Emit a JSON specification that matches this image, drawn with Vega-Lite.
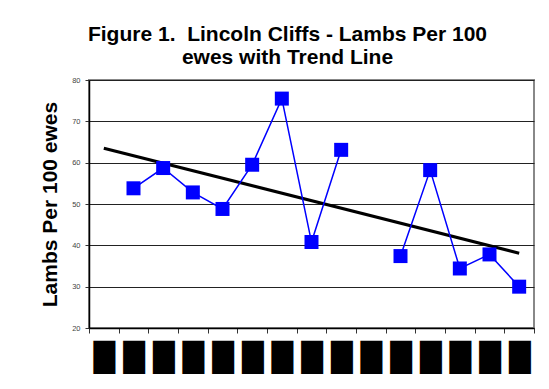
{
  "$schema": "https://vega.github.io/schema/vega-lite/v6.json",
  "autosize": "none",
  "width": 445,
  "height": 248,
  "padding": {"left": 89, "top": 80, "right": 15, "bottom": 61},
  "background": "white",
  "title": {
    "text": ["Figure 1.\u00a0 Lincoln Cliffs - Lambs Per 100", "ewes with Trend Line"],
    "font": "Liberation Sans",
    "fontSize": 21,
    "fontWeight": "bold",
    "color": "black",
    "lineHeight": 23.5,
    "anchor": "middle",
    "dx": -24,
    "offset": 8
  },
  "datasets": {
    "obs": [
      {"year": "c1", "lambs": null},
      {"year": "c2", "lambs": 53.8},
      {"year": "c3", "lambs": 58.7},
      {"year": "c4", "lambs": 52.8},
      {"year": "c5", "lambs": 48.8},
      {"year": "c6", "lambs": 59.5},
      {"year": "c7", "lambs": 75.5},
      {"year": "c8", "lambs": 40.8},
      {"year": "c9", "lambs": 63.1},
      {"year": "c10", "lambs": null},
      {"year": "c11", "lambs": 37.4},
      {"year": "c12", "lambs": 58.2},
      {"year": "c13", "lambs": 34.4},
      {"year": "c14", "lambs": 37.8},
      {"year": "c15", "lambs": 30.0}
    ],
    "trend": [
      {"year": "c1", "lambs": 63.5},
      {"year": "c15", "lambs": 38.1}
    ]
  },
  "config": {
    "view": {"stroke": "#888888", "strokeWidth": 2},
    "axis": {"labelFont": "Liberation Sans", "titleFont": "Liberation Sans"}
  },
  "encoding": {
    "x": {
      "field": "year",
      "type": "ordinal",
      "scale": {"domain": ["c1","c2","c3","c4","c5","c6","c7","c8","c9","c10","c11","c12","c13","c14","c15"], "paddingInner": 0, "paddingOuter": 0},
      "axis": {
        "title": null,
        "tickBand": "extent",
        "labelExpr": "datum.label ? '█' : ''",
        "labelFont": "DejaVu Sans",
        "labelFontSize": 28,
        "labelColor": "black",
        "labelAngle": 0,
        "labelPadding": 11,
        "labelOverlap": false,
        "tickSize": 5,
        "tickColor": "#333333",
        "domainColor": "black",
        "domainWidth": 1.5,
        "grid": false
      }
    },
    "y": {
      "field": "lambs",
      "type": "quantitative",
      "scale": {"domain": [20, 80], "nice": false, "zero": false},
      "axis": {
        "title": "Lambs Per 100 ewes",
        "titleFontSize": 21,
        "titleFontWeight": "bold",
        "titleColor": "black",
        "titlePadding": 11,
        "values": [20, 30, 40, 50, 60, 70, 80],
        "labelFontSize": 7.5,
        "labelColor": "#444444",
        "labelPadding": 5,
        "tickSize": 4,
        "tickColor": "#333333",
        "domainColor": "black",
        "domainWidth": 1.5,
        "grid": true,
        "gridColor": "#222222",
        "gridWidth": 1,
        "gridOpacity": 1
      }
    }
  },
  "layer": [
    {
      "data": {"name": "trend"},
      "mark": {"type": "line", "color": "black", "strokeWidth": 3}
    },
    {
      "data": {"name": "obs"},
      "mark": {"type": "line", "color": "#0000FF", "strokeWidth": 1.5}
    },
    {
      "data": {"name": "obs"},
      "mark": {"type": "point", "shape": "square", "filled": true, "size": 196, "color": "#0000FF", "opacity": 1}
    }
  ]
}
